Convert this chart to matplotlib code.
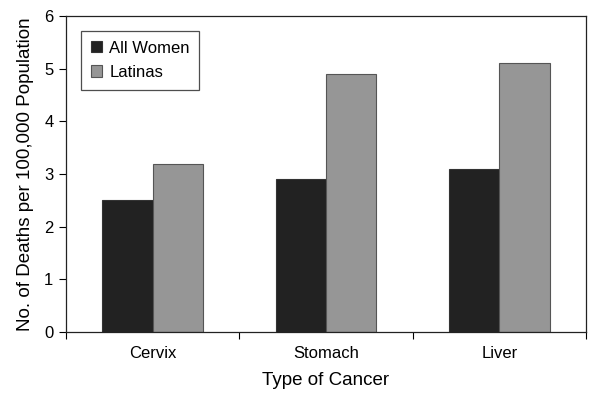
import numpy as np
from matplotlib import pyplot as plt

plt.rcParams["font.family"] = ["Liberation Sans", "DejaVu Sans"]

# data
categories = ["Cervix", "Stomach", "Liver"]
all_women = [2.5, 2.9, 3.1]
latinas = [3.2, 4.9, 5.1]
series_names = ["All Women", "Latinas"]

fig = plt.figure(figsize=(6.01, 4.01), dpi=100)
ax = fig.add_axes([0.1098, 0.172, 0.8652, 0.788])

x = np.arange(len(categories))
width = 0.29
ax.bar(x - width / 2, all_women, width, color="#222222", edgecolor="#333333",
       linewidth=0.8, label=series_names[0])
ax.bar(x + width / 2, latinas, width, color="#969696", edgecolor="#555555",
       linewidth=0.8, label=series_names[1])

ax.set_xlim(-0.5, len(categories) - 0.5)
ax.set_ylim(0, 6)
ax.set_yticks(range(0, 7))

# category labels centred, tick marks at the boundaries
ax.set_xticks(np.arange(-0.5, len(categories), 1.0))
ax.set_xticklabels([])
ax.set_xticks(x, minor=True)
ax.set_xticklabels(categories, minor=True)
ax.tick_params(axis="x", which="minor", length=0, labelsize=12, pad=10)
ax.tick_params(axis="x", which="major", length=5, width=0.8)
ax.tick_params(axis="y", length=5, width=0.8, labelsize=12, pad=4)

for s in ax.spines.values():
    s.set_linewidth(0.9)
    s.set_color("#222222")

ax.set_xlabel("Type of Cancer", fontsize=13.5, labelpad=8)
ax.set_ylabel("No. of Deaths per 100,000 Population", fontsize=13.5, labelpad=7)

leg = ax.legend(loc="upper left", bbox_to_anchor=(0.0288, 0.9525), borderaxespad=0,
                fontsize=12, frameon=True, fancybox=False, edgecolor="#222222",
                handlelength=0.66, handleheight=0.66, handletextpad=0.45,
                borderpad=0.58, labelspacing=0.55)
leg.get_frame().set_linewidth(0.9)

fig.savefig("out.png", dpi=100)
